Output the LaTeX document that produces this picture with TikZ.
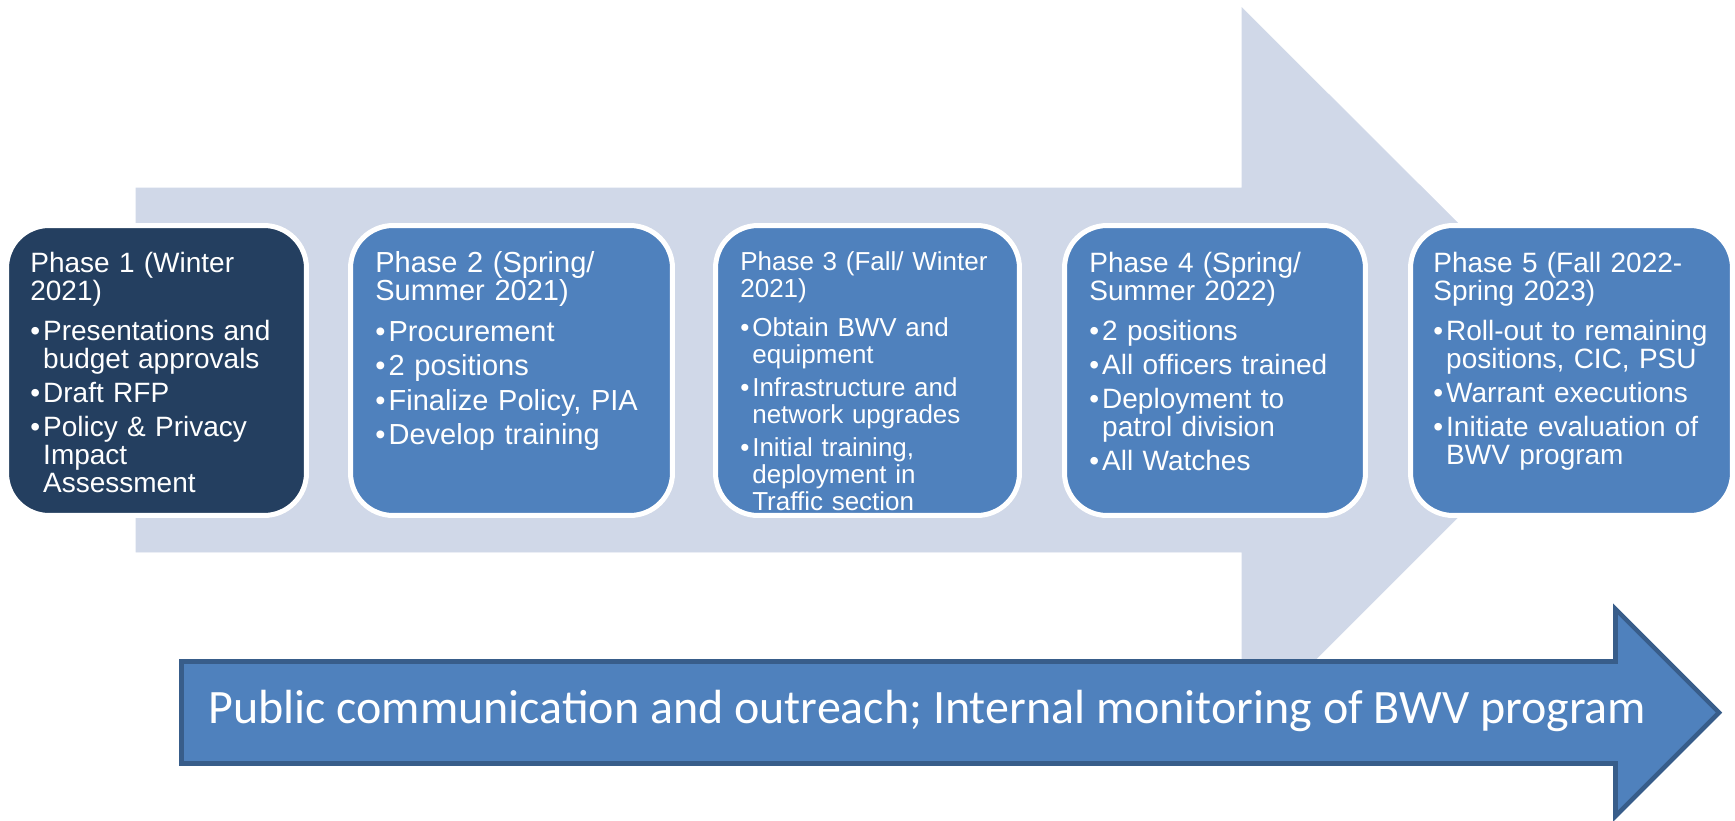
\documentclass[tikz,border=0pt]{standalone}
\usepackage{fontspec}
\setmainfont{Liberation Sans}
\newfontfamily\calfont{Carlito}
\definecolor{bgarrow}{HTML}{D0D8E8}
\definecolor{phasedark}{HTML}{243F60}
\definecolor{phaseblue}{HTML}{4F81BD}
\definecolor{arrowline}{HTML}{385D8A}
\newcommand\phead[1]{\rule{0pt}{14pt}#1\par\vskip3.4pt}
\newcommand\bitem[1]{\par\vskip3.4pt\hangindent=0.46em\hangafter=1\noindent\hbox to 0.46em{\textbullet\hss}#1}
\lineskiplimit=-100pt
\begin{document}
\begin{tikzpicture}[x=0.02cm, y=-0.02cm]
	    \tikzset{
	      phasebox/.style={draw=white, line width=2.85pt, rounded corners=0.85cm, minimum height=5.8cm, inner sep=0pt},
	      phasetext/.style={anchor=north west, yshift=14pt, inner sep=0pt, align=left, text=white, font={\fontsize{15.93}{15.93}\selectfont}}
	    }
	    \useasboundingbox (0,0) rectangle (1735,821);
	    \filldraw[color=bgarrow] (136,188) -- (1242,188) -- (1242,8) -- (1605,370) -- (1242,733) -- (1242,552) -- (136,552) -- cycle;
	    \node[phasebox, fill=phasedark, minimum width=6cm] (p1) at (156.5,370.5) {};
	    \node[phasebox, fill=phaseblue, minimum width=6.44cm] (p2) at (511.5,370.5) {};
	    \node[phasebox, fill=phaseblue, minimum width=6.08cm] (p3) at (867.5,370.5) {};
	    \node[phasebox, fill=phaseblue, minimum width=6.02cm] (p4) at (1215,370.5) {};
	    \node[phasebox, fill=phaseblue, minimum width=6.44cm] (p5) at (1571.5,370.5) {};
	    \node[phasetext, text width=5.4cm] (t1) at (30,272) {\phead{Phase 1 (Winter\newline 2021)}\bitem{Presentations and\newline budget approvals}\bitem{Draft RFP}\bitem{Policy \& Privacy\newline Impact\newline Assessment}\par};
	    \node[phasetext, text width=5.8cm, font={\fontsize{16.5}{16.2}\selectfont}] (t2) at (375,272) {\phead{Phase 2 (Spring/\newline Summer 2021)}\bitem{Procurement}\bitem{2 positions}\bitem{Finalize Policy, PIA}\bitem{Develop training}\par};
	    \node[phasetext, text width=5.45cm, font={\fontsize{14.8}{15.36}\selectfont}] (t3) at (740,270) {\phead{Phase 3 (Fall/ Winter\newline 2021)}\bitem{Obtain BWV and\newline equipment}\bitem{Infrastructure and\newline network upgrades}\bitem{Initial training,\newline deployment in\newline Traffic section}\par};
	    \node[phasetext, text width=5.4cm] (t4) at (1089,272) {\phead{Phase 4 (Spring/\newline Summer 2022)}\bitem{2 positions}\bitem{All officers trained}\bitem{Deployment to\newline patrol division}\bitem{All Watches}\par};
	    \node[phasetext, text width=5.85cm] (t5) at (1433,272) {\phead{Phase 5 (Fall 2022-\newline Spring 2023)}\bitem{Roll-out to remaining\newline positions, CIC, PSU}\bitem{Warrant executions}\bitem{Initiate evaluation of\newline BWV program}\par};
	    \filldraw[fill=phaseblue, draw=arrowline, line width=2.6pt] (181.5,661.5) -- (1615.5,661.5) -- (1615.5,609) -- (1719,712.5) -- (1615.5,816) -- (1615.5,763.5) -- (181.5,763.5) -- cycle;
	    \node[anchor=base west, inner sep=0pt, text=white, font={\calfont\fontsize{27.3}{32}\selectfont}] (outreach) at (208,723) {Public communication and outreach; Internal monitoring of BWV program};
	\end{tikzpicture}
\end{document}
